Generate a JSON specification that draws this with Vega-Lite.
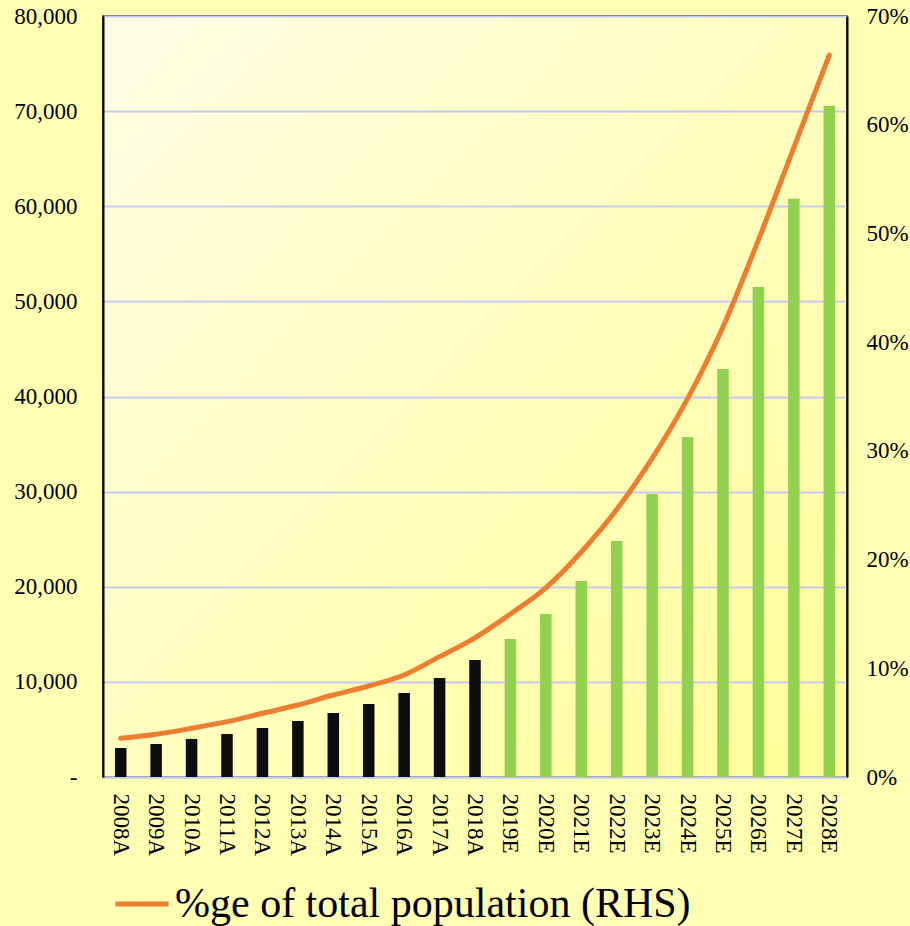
{
  "$schema": "https://vega.github.io/schema/vega-lite/v6.json",
  "autosize": {"type": "none"},
  "width": 744,
  "height": 761,
  "padding": {"left": 103, "top": 16, "right": 63, "bottom": 149},
  "background": "#ffffb4",
  "config": {
    "font": "'Liberation Serif', 'Times New Roman', Times, serif",
    "view": {
      "fill": {"gradient": "linear", "x1": 0, "y1": 0, "x2": 1, "y2": 1,
        "stops": [{"offset": 0, "color": "#fffde6"}, {"offset": 1, "color": "#ffff99"}]},
      "stroke": "#000000",
      "strokeWidth": 1.5
    },
    "axis": {"labelFont": "'Liberation Serif', 'Times New Roman', Times, serif", "labelFontSize": 23, "labelColor": "#000000", "ticks": false, "title": null},
    "legend": {"labelFont": "'Liberation Serif', 'Times New Roman', Times, serif"}
  },
  "data": {
    "values": [
      {"year": "2008A", "type": "A", "pop": 3050, "pct": 0.0356},
      {"year": "2009A", "type": "A", "pop": 3470, "pct": 0.0393},
      {"year": "2010A", "type": "A", "pop": 4000, "pct": 0.0448},
      {"year": "2011A", "type": "A", "pop": 4520, "pct": 0.0509},
      {"year": "2012A", "type": "A", "pop": 5150, "pct": 0.0586},
      {"year": "2013A", "type": "A", "pop": 5890, "pct": 0.0662},
      {"year": "2014A", "type": "A", "pop": 6730, "pct": 0.0754},
      {"year": "2015A", "type": "A", "pop": 7680, "pct": 0.0837},
      {"year": "2016A", "type": "A", "pop": 8830, "pct": 0.0938},
      {"year": "2017A", "type": "A", "pop": 10410, "pct": 0.1107},
      {"year": "2018A", "type": "A", "pop": 12300, "pct": 0.128},
      {"year": "2019E", "type": "E", "pop": 14510, "pct": 0.150},
      {"year": "2020E", "type": "E", "pop": 17140, "pct": 0.174},
      {"year": "2021E", "type": "E", "pop": 20610, "pct": 0.207},
      {"year": "2022E", "type": "E", "pop": 24820, "pct": 0.246},
      {"year": "2023E", "type": "E", "pop": 29760, "pct": 0.293},
      {"year": "2024E", "type": "E", "pop": 35750, "pct": 0.348},
      {"year": "2025E", "type": "E", "pop": 42900, "pct": 0.414},
      {"year": "2026E", "type": "E", "pop": 51520, "pct": 0.494},
      {"year": "2027E", "type": "E", "pop": 60780, "pct": 0.579},
      {"year": "2028E", "type": "E", "pop": 70560, "pct": 0.664}
    ]
  },
  "encoding": {
    "x": {
      "field": "year", "type": "nominal", "sort": null,
      "scale": {"paddingInner": 0.675, "paddingOuter": 0.3375},
      "axis": {"labelAngle": 90, "labelAlign": "left", "labelBaseline": "middle", "labelPadding": 16, "domainColor": "#c8c8f0", "domainWidth": 2}
    }
  },
  "layer": [
    {
      "mark": {"type": "bar"},
      "encoding": {
        "y": {
          "field": "pop", "type": "quantitative",
          "scale": {"domain": [0, 80000]},
          "axis": {
            "values": [0, 10000, 20000, 30000, 40000, 50000, 60000, 70000, 80000],
            "labelExpr": "datum.value == 0 ? '-\u00a0\u00a0\u00a0' : format(datum.value, ',')",
            "grid": true, "gridColor": "#c8c8f5", "gridWidth": 2,
            "domainColor": "#000000", "domainWidth": 2, "labelPadding": 26
          }
        },
        "color": {
          "field": "type", "type": "nominal",
          "scale": {"domain": ["A", "E"], "range": ["#0d0d0d", "#92d050"]},
          "legend": null
        }
      }
    },
    {
      "mark": {"type": "line", "strokeWidth": 5, "strokeCap": "round", "strokeJoin": "round", "interpolate": "monotone"},
      "encoding": {
        "y": {
          "field": "pct", "type": "quantitative",
          "scale": {"domain": [0, 0.7]},
          "axis": {
            "orient": "right", "format": ".0%",
            "values": [0, 0.1, 0.2, 0.3, 0.4, 0.5, 0.6, 0.7],
            "grid": false, "domainColor": "#000000", "domainWidth": 2, "labelPadding": 19
          }
        },
        "color": {
          "datum": "%ge of total population (RHS)", "type": "nominal",
          "scale": {"range": ["#ed7d31"]},
          "legend": {
            "title": null, "orient": "none", "legendX": 10, "legendY": 859,
            "symbolType": "stroke", "symbolSize": 2809, "symbolStrokeWidth": 5,
            "labelFont": "Liberation Serif", "labelFontSize": 42, "labelColor": "#000000",
            "labelOffset": 4, "padding": 0, "labelLimit": 800
          }
        }
      }
    }
  ],
  "resolve": {"scale": {"y": "independent", "color": "independent"}}
}
